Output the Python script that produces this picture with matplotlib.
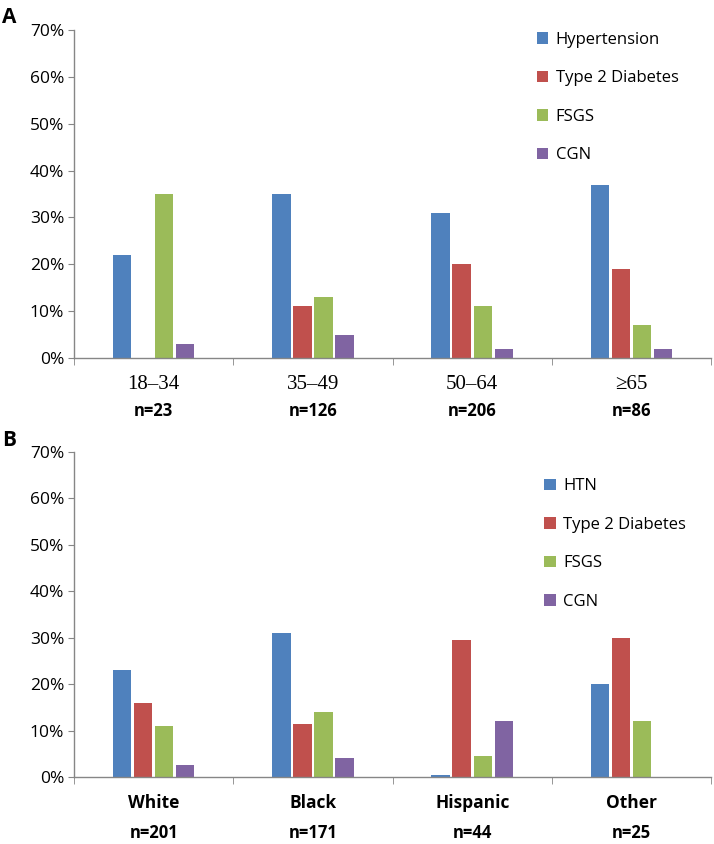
import matplotlib
matplotlib.use('Agg')
import matplotlib.pyplot as plt
import numpy as np

# 数据
age_groups = ['18\u201334', '35\u201349', '50\u201364', '\u226565']
age_n = ['n=23', 'n=126', 'n=206', 'n=86']
age_labels = ['Hypertension', 'Type 2 Diabetes', 'FSGS', 'CGN']
age_htn = [22, 35, 31, 37]
age_t2d = [0, 11, 20, 19]
age_fsgs = [35, 13, 11, 7]
age_cgn = [3, 5, 2, 2]

race_groups = ['White', 'Black', 'Hispanic', 'Other']
race_n = ['n=201', 'n=171', 'n=44', 'n=25']
race_labels = ['HTN', 'Type 2 Diabetes', 'FSGS', 'CGN']
race_htn = [23, 31, 0.5, 20]
race_t2d = [16, 11.5, 29.5, 30]
race_fsgs = [11, 14, 4.5, 12]
race_cgn = [2.5, 4, 12, 0]

colors = ['#4F81BD', '#C0504D', '#9BBB59', '#8064A2']
axis_gray = '#868686'
sans = ['Open Sans', 'DejaVu Sans']

fig = plt.figure(figsize=(7.14, 8.44), dpi=100)
ax_a = fig.add_axes([0.1036, 0.5758, 0.8925, 0.3887])
ax_b = fig.add_axes([0.1036, 0.0794, 0.8925, 0.3851])


def draw_panel(ax, groups, nlabels, series, labels, cat_font, n_off, legend_anchor):
    x = np.arange(len(groups))
    step = 0.132
    for i, (vals, lab) in enumerate(zip(series, labels)):
        ax.bar(x + (i - 1.5) * step, vals, width=step * 0.88, color=colors[i],
               linewidth=0, label=lab)

    ax.set_xlim(-0.5, len(groups) - 0.5)
    ax.set_ylim(0, 70)
    ax.set_yticks(range(0, 71, 10))
    ax.set_yticklabels([f'{v}%' for v in range(0, 71, 10)], family=sans, fontsize=12.5)
    ax.tick_params(axis='y', direction='out', length=4, color=axis_gray, pad=3)

    ax.set_xticks(x)
    ax.set_xticklabels(groups, **cat_font)
    ax.tick_params(axis='x', which='major', length=0, pad=12)
    ax.set_xticks(np.arange(len(groups) + 1) - 0.5, minor=True)
    ax.tick_params(axis='x', which='minor', direction='out', length=5, color=axis_gray)

    for xi, n in zip(x, nlabels):
        ax.annotate(n, xy=(xi, 0), xycoords=('data', 'axes fraction'),
                    xytext=(0, -n_off * 0.72), textcoords='offset points',
                    ha='center', va='center', fontsize=12, fontweight='bold', family=sans)

    for side in ['top', 'right']:
        ax.spines[side].set_visible(False)
    for side in ['left', 'bottom']:
        ax.spines[side].set_color(axis_gray)
        ax.spines[side].set_linewidth(1)

    ax.legend(loc='upper left', bbox_to_anchor=legend_anchor, frameon=False,
              handlelength=0.7, handleheight=0.7, handletextpad=0.45,
              labelspacing=1.35, borderpad=0, prop={'family': sans, 'size': 12})


draw_panel(ax_a, age_groups, age_n, [age_htn, age_t2d, age_fsgs, age_cgn], age_labels,
           dict(family=['Liberation Serif', 'DejaVu Serif'], fontsize=15), 53, (0.713, 1.02))
draw_panel(ax_b, race_groups, race_n, [race_htn, race_t2d, race_fsgs, race_cgn], race_labels,
           dict(family=sans, fontsize=12.5, fontweight='bold'), 56, (0.725, 0.945))

fig.text(0.003, 0.979, 'A', fontsize=15, fontweight='bold', family=sans, va='center')
fig.text(0.003, 0.478, 'B', fontsize=15, fontweight='bold', family=sans, va='center')

fig.savefig('out.png', dpi=100)
plt.close(fig)
